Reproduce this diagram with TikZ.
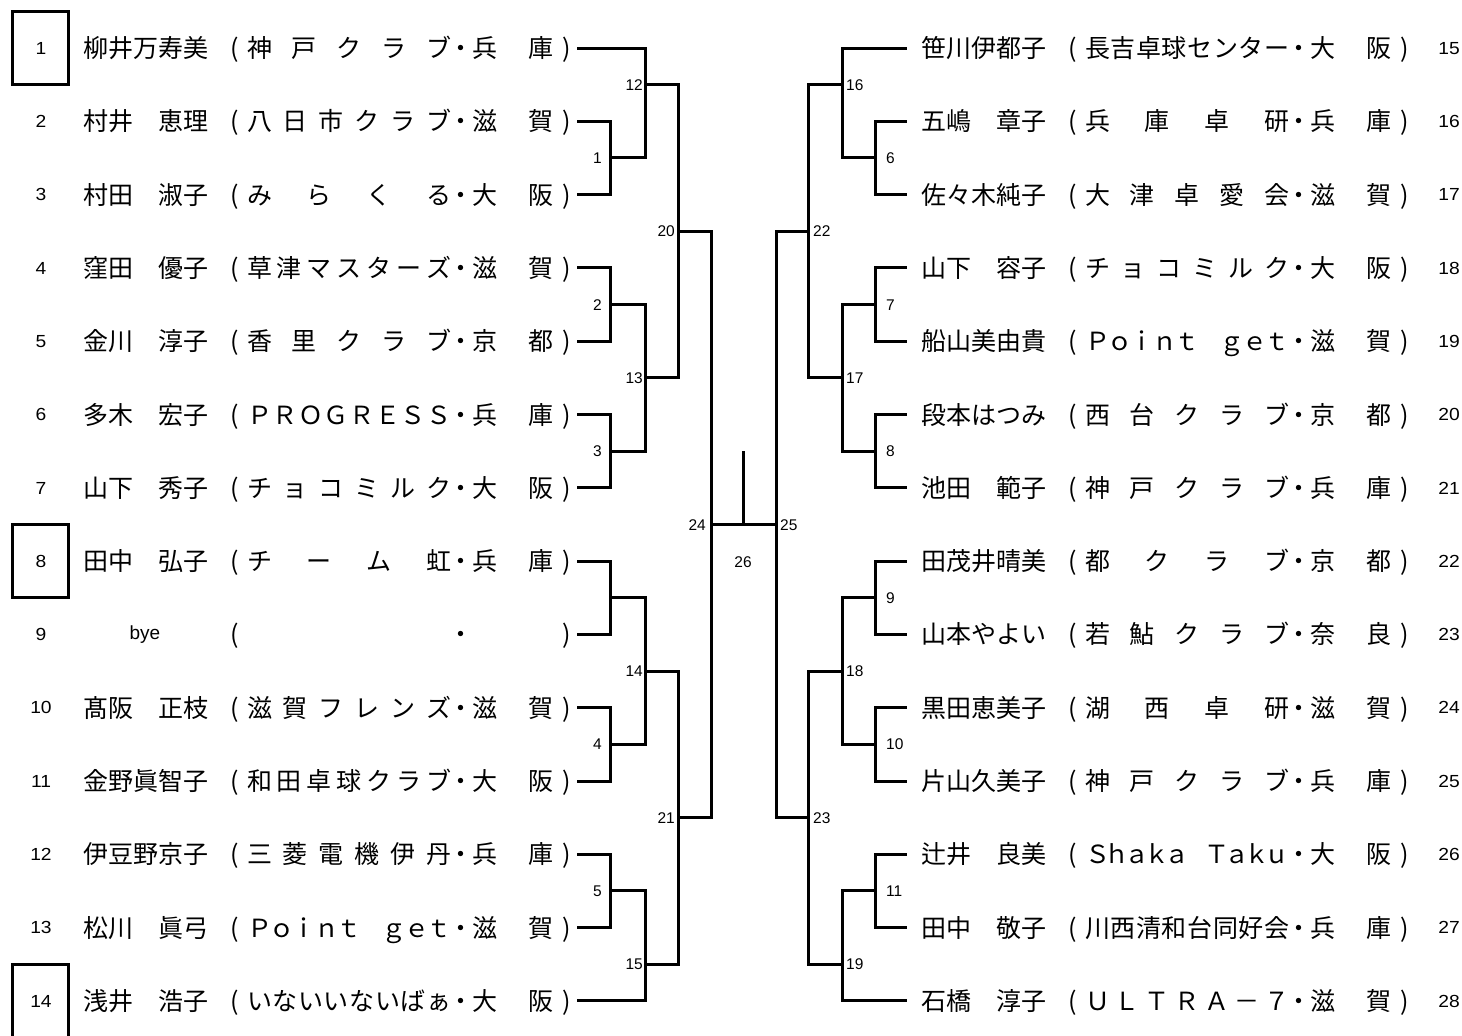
\documentclass[tikz,border=0pt]{standalone}
\usepackage{fontspec}
\setmainfont{Noto Sans CJK JP}
\newfontfamily\numfont{Liberation Sans}
\newfontfamily\rowfont[FakeStretch=1.1]{Liberation Sans}
\tikzset{
  cj/.style={font=\fontsize{25}{30}\selectfont, inner sep=0pt, text height=22pt, text depth=3pt},
  rn/.style={font=\rowfont\fontsize{17.5}{21}\selectfont, inner sep=0pt, text height=12.5pt, text depth=0pt},
  lab/.style={font=\numfont\fontsize{15.5}{19}\selectfont, inner sep=0pt, text height=11.1pt, text depth=0pt},
  byef/.style={font=\numfont\fontsize{19}{22}\selectfont, inner sep=0pt, text height=13.6pt, text depth=3.9pt},
  br/.style={line width=3pt, line cap=rect, line join=miter},
}
% #1 tag, #2 x of name start, #3 y, #4 name, #5 number of club chars, #6 club chars, #7 #8 prefecture
\newcommand\entry[8]{%
  \node[cj,anchor=west] (#1n) at (#2,#3) {#4};
  \node[cj] (#1l) at ({#2+152},#3) {(};
  \foreach \c [count=\i from 0] in {#6}{%
    \node[cj] (#1c\i) at ({#2+176.5+\i*179.5/(#5-1)},#3) {\c};}
  \node[cj] (#1d) at ({#2+378},#3) {・};
  \node[cj] (#1p) at ({#2+402},#3) {#7};
  \node[cj] (#1q) at ({#2+458},#3) {#8};
  \node[cj] (#1r) at ({#2+483.5},#3) {)};
}
\begin{document}
\begin{tikzpicture}[x=1pt,y=-1pt]
\useasboundingbox (0,0) rectangle (1462,1036);
\fill[white] (0,0) rectangle (1462,1036);

% ---------------- left entries ----------------
\node[rn] (N1) at (41,48) {1};
\entry{L1}{83}{48}{柳井万寿美}{5}{神,戸,ク,ラ,ブ}{兵}{庫}
\node[rn] (N2) at (41,121.3) {2};
\entry{L2}{83}{121.3}{村井　恵理}{6}{八,日,市,ク,ラ,ブ}{滋}{賀}
\node[rn] (N3) at (41,194.6) {3};
\entry{L3}{83}{194.6}{村田　淑子}{4}{み,ら,く,る}{大}{阪}
\node[rn] (N4) at (41,267.9) {4};
\entry{L4}{83}{267.9}{窪田　優子}{7}{草,津,マ,ス,タ,ー,ズ}{滋}{賀}
\node[rn] (N5) at (41,341.2) {5};
\entry{L5}{83}{341.2}{金川　淳子}{5}{香,里,ク,ラ,ブ}{京}{都}
\node[rn] (N6) at (41,414.5) {6};
\entry{L6}{83}{414.5}{多木　宏子}{8}{Ｐ,Ｒ,Ｏ,Ｇ,Ｒ,Ｅ,Ｓ,Ｓ}{兵}{庫}
\node[rn] (N7) at (41,487.8) {7};
\entry{L7}{83}{487.8}{山下　秀子}{6}{チ,ョ,コ,ミ,ル,ク}{大}{阪}
\node[rn] (N8) at (41,561.1) {8};
\entry{L8}{83}{561.1}{田中　弘子}{4}{チ,ー,ム,虹}{兵}{庫}
\node[rn] (N9) at (41,634.4) {9};
\node[byef] (bye) at (145,634.4) {bye};
\node[cj] (L9l) at (235,634.4) {(};
\node[cj] (L9d) at (461,634.4) {・};
\node[cj] (L9r) at (566.5,634.4) {)};
\node[rn] (N10) at (41,707.7) {10};
\entry{L10}{83}{707.7}{髙阪　正枝}{6}{滋,賀,フ,レ,ン,ズ}{滋}{賀}
\node[rn] (N11) at (41,781) {11};
\entry{L11}{83}{781}{金野眞智子}{7}{和,田,卓,球,ク,ラ,ブ}{大}{阪}
\node[rn] (N12) at (41,854.3) {12};
\entry{L12}{83}{854.3}{伊豆野京子}{6}{三,菱,電,機,伊,丹}{兵}{庫}
\node[rn] (N13) at (41,927.6) {13};
\entry{L13}{83}{927.6}{松川　眞弓}{9}{Ｐ,ｏ,ｉ,ｎ,ｔ,{},ｇ,ｅ,ｔ}{滋}{賀}
\node[rn] (N14) at (41,1000.9) {14};
\entry{L14}{83}{1000.9}{浅井　浩子}{8}{い,な,い,い,な,い,ば,ぁ}{大}{阪}

% seed boxes
\draw[br] (12,11.35) rectangle (68,84.65);
\draw[br] (12,524.45) rectangle (68,597.75);
\draw[br,line cap=butt] (12,1045) |- (68,964.25) -- (68,1045);

% ---------------- right entries ----------------
\entry{R15}{921}{48}{笹川伊都子}{8}{長,吉,卓,球,セ,ン,タ,ー}{大}{阪}
\node[rn] (N15) at (1449,48) {15};
\entry{R16}{921}{121.3}{五嶋　章子}{4}{兵,庫,卓,研}{兵}{庫}
\node[rn] (N16) at (1449,121.3) {16};
\entry{R17}{921}{194.6}{佐々木純子}{5}{大,津,卓,愛,会}{滋}{賀}
\node[rn] (N17) at (1449,194.6) {17};
\entry{R18}{921}{267.9}{山下　容子}{6}{チ,ョ,コ,ミ,ル,ク}{大}{阪}
\node[rn] (N18) at (1449,267.9) {18};
\entry{R19}{921}{341.2}{船山美由貴}{9}{Ｐ,ｏ,ｉ,ｎ,ｔ,{},ｇ,ｅ,ｔ}{滋}{賀}
\node[rn] (N19) at (1449,341.2) {19};
\entry{R20}{921}{414.5}{段本はつみ}{5}{西,台,ク,ラ,ブ}{京}{都}
\node[rn] (N20) at (1449,414.5) {20};
\entry{R21}{921}{487.8}{池田　範子}{5}{神,戸,ク,ラ,ブ}{兵}{庫}
\node[rn] (N21) at (1449,487.8) {21};
\entry{R22}{921}{561.1}{田茂井晴美}{4}{都,ク,ラ,ブ}{京}{都}
\node[rn] (N22) at (1449,561.1) {22};
\entry{R23}{921}{634.4}{山本やよい}{5}{若,鮎,ク,ラ,ブ}{奈}{良}
\node[rn] (N23) at (1449,634.4) {23};
\entry{R24}{921}{707.7}{黒田恵美子}{4}{湖,西,卓,研}{滋}{賀}
\node[rn] (N24) at (1449,707.7) {24};
\entry{R25}{921}{781}{片山久美子}{5}{神,戸,ク,ラ,ブ}{兵}{庫}
\node[rn] (N25) at (1449,781) {25};
\entry{R26}{921}{854.3}{辻井　良美}{10}{Ｓ,ｈ,ａ,ｋ,ａ,{},Ｔ,ａ,ｋ,ｕ}{大}{阪}
\node[rn] (N26) at (1449,854.3) {26};
\entry{R27}{921}{927.6}{田中　敬子}{8}{川,西,清,和,台,同,好,会}{兵}{庫}
\node[rn] (N27) at (1449,927.6) {27};
\entry{R28}{921}{1000.9}{石橋　淳子}{7}{Ｕ,Ｌ,Ｔ,Ｒ,Ａ,－,７}{滋}{賀}
\node[rn] (N28) at (1449,1000.9) {28};

% ---------------- bracket coordinates ----------------
\foreach \k/\y in {1/48,2/121.3,3/194.6,4/267.9,5/341.2,6/414.5,7/487.8,
                   8/561.1,9/634.4,10/707.7,11/781,12/854.3,13/927.6,14/1000.9}{
  \coordinate (A\k) at (578,\y);
  \coordinate (Z\k) at (905,\y);
}
% left junctions
\coordinate (B1) at (610,157.95);  \coordinate (C1) at (645,157.95);
\coordinate (B2) at (610,304.55);  \coordinate (C2) at (645,304.55);
\coordinate (B3) at (610,451.15);  \coordinate (C3) at (645,451.15);
\coordinate (B4) at (610,597.75);  \coordinate (C4) at (645,597.75);
\coordinate (B5) at (610,744.35);  \coordinate (C5) at (645,744.35);
\coordinate (B6) at (610,890.95);  \coordinate (C6) at (645,890.95);
\coordinate (C12) at (645,84.65);  \coordinate (D12) at (678,84.65);
\coordinate (C13) at (645,377.85); \coordinate (D13) at (678,377.85);
\coordinate (C14) at (645,671.05); \coordinate (D14) at (678,671.05);
\coordinate (C15) at (645,964.25); \coordinate (D15) at (678,964.25);
\coordinate (D20) at (678,231.25); \coordinate (E20) at (711,231.25);
\coordinate (D21) at (678,817.65); \coordinate (E21) at (711,817.65);
\coordinate (E24) at (711,524.45);
% right junctions
\coordinate (b1) at (875,157.95);  \coordinate (c1) at (842,157.95);
\coordinate (b2) at (875,304.55);  \coordinate (c2) at (842,304.55);
\coordinate (b3) at (875,451.15);  \coordinate (c3) at (842,451.15);
\coordinate (b4) at (875,597.75);  \coordinate (c4) at (842,597.75);
\coordinate (b5) at (875,744.35);  \coordinate (c5) at (842,744.35);
\coordinate (b6) at (875,890.95);  \coordinate (c6) at (842,890.95);
\coordinate (c16) at (842,84.65);  \coordinate (d16) at (808,84.65);
\coordinate (c17) at (842,377.85); \coordinate (d17) at (808,377.85);
\coordinate (c18) at (842,671.05); \coordinate (d18) at (808,671.05);
\coordinate (c19) at (842,964.25); \coordinate (d19) at (808,964.25);
\coordinate (d22) at (808,231.25); \coordinate (e22) at (776,231.25);
\coordinate (d23) at (808,817.65); \coordinate (e23) at (776,817.65);
\coordinate (e25) at (776,524.45);
\coordinate (T26) at (743,452);    \coordinate (M26) at (743,524.45);

% ---------------- left brackets ----------------
\draw[br] (A1) -| (C1);
\draw[br] (A2) -| (B1) |- (A3);  \draw[br] (B1) -- (C1);
\draw[br] (C12) -- (D12);
\draw[br] (A4) -| (B2) |- (A5);  \draw[br] (B2) -- (C2);
\draw[br] (A6) -| (B3) |- (A7);  \draw[br] (B3) -- (C3);
\draw[br] (C2) -- (C3);          \draw[br] (C13) -- (D13);
\draw[br] (D12) -- (D13);        \draw[br] (D20) -- (E20);
\draw[br] (A8) -| (B4) |- (A9);  \draw[br] (B4) -- (C4);
\draw[br] (A10) -| (B5) |- (A11);\draw[br] (B5) -- (C5);
\draw[br] (C4) -- (C5);          \draw[br] (C14) -- (D14);
\draw[br] (A12) -| (B6) |- (A13);\draw[br] (B6) -- (C6);
\draw[br] (A14) -| (C6);         \draw[br] (C15) -- (D15);
\draw[br] (D14) -- (D15);        \draw[br] (D21) -- (E21);
\draw[br] (E20) -- (E21);        \draw[br] (E24) -- (e25);
\draw[br] (T26) -- (M26);

% ---------------- right brackets ----------------
\draw[br] (Z1) -| (c1);
\draw[br] (Z2) -| (b1) |- (Z3);  \draw[br] (b1) -- (c1);
\draw[br] (c16) -- (d16);
\draw[br] (Z4) -| (b2) |- (Z5);  \draw[br] (b2) -- (c2);
\draw[br] (Z6) -| (b3) |- (Z7);  \draw[br] (b3) -- (c3);
\draw[br] (c2) -- (c3);          \draw[br] (c17) -- (d17);
\draw[br] (d16) -- (d17);        \draw[br] (d22) -- (e22);
\draw[br] (Z8) -| (b4) |- (Z9);  \draw[br] (b4) -- (c4);
\draw[br] (Z10) -| (b5) |- (Z11);\draw[br] (b5) -- (c5);
\draw[br] (c4) -- (c5);          \draw[br] (c18) -- (d18);
\draw[br] (Z12) -| (b6) |- (Z13);\draw[br] (b6) -- (c6);
\draw[br] (Z14) -| (c6);         \draw[br] (c19) -- (d19);
\draw[br] (d18) -- (d19);        \draw[br] (d23) -- (e23);
\draw[br] (e22) -- (e23);

% ---------------- match labels ----------------
\node[lab,anchor=east] (m1) at (602,157.95) {1};
\node[lab,anchor=east] (m2) at (602,304.55) {2};
\node[lab,anchor=east] (m3) at (602,451.15) {3};
\node[lab,anchor=east] (m4) at (602,744.35) {4};
\node[lab,anchor=east] (m5) at (602,890.95) {5};
\node[lab,anchor=east] (m12) at (643,84.65) {12};
\node[lab,anchor=east] (m13) at (643,377.85) {13};
\node[lab,anchor=east] (m14) at (643,671.05) {14};
\node[lab,anchor=east] (m15) at (643,964.25) {15};
\node[lab,anchor=east] (m20) at (675,231.25) {20};
\node[lab,anchor=east] (m21) at (675,817.65) {21};
\node[lab,anchor=east] (m24) at (706,524.45) {24};
\node[lab,anchor=west] (m6) at (886,157.95) {6};
\node[lab,anchor=west] (m7) at (886,304.55) {7};
\node[lab,anchor=west] (m8) at (886,451.15) {8};
\node[lab,anchor=west] (m9) at (886,597.75) {9};
\node[lab,anchor=west] (m10) at (886,744.35) {10};
\node[lab,anchor=west] (m11) at (886,890.95) {11};
\node[lab,anchor=west] (m16) at (846,84.65) {16};
\node[lab,anchor=west] (m17) at (846,377.85) {17};
\node[lab,anchor=west] (m18) at (846,671.05) {18};
\node[lab,anchor=west] (m19) at (846,964.25) {19};
\node[lab,anchor=west] (m22) at (813,231.25) {22};
\node[lab,anchor=west] (m23) at (813,817.65) {23};
\node[lab,anchor=west] (m25) at (780,524.45) {25};
\node[lab] (m26) at (743,561.5) {26};
\end{tikzpicture}
\end{document}
